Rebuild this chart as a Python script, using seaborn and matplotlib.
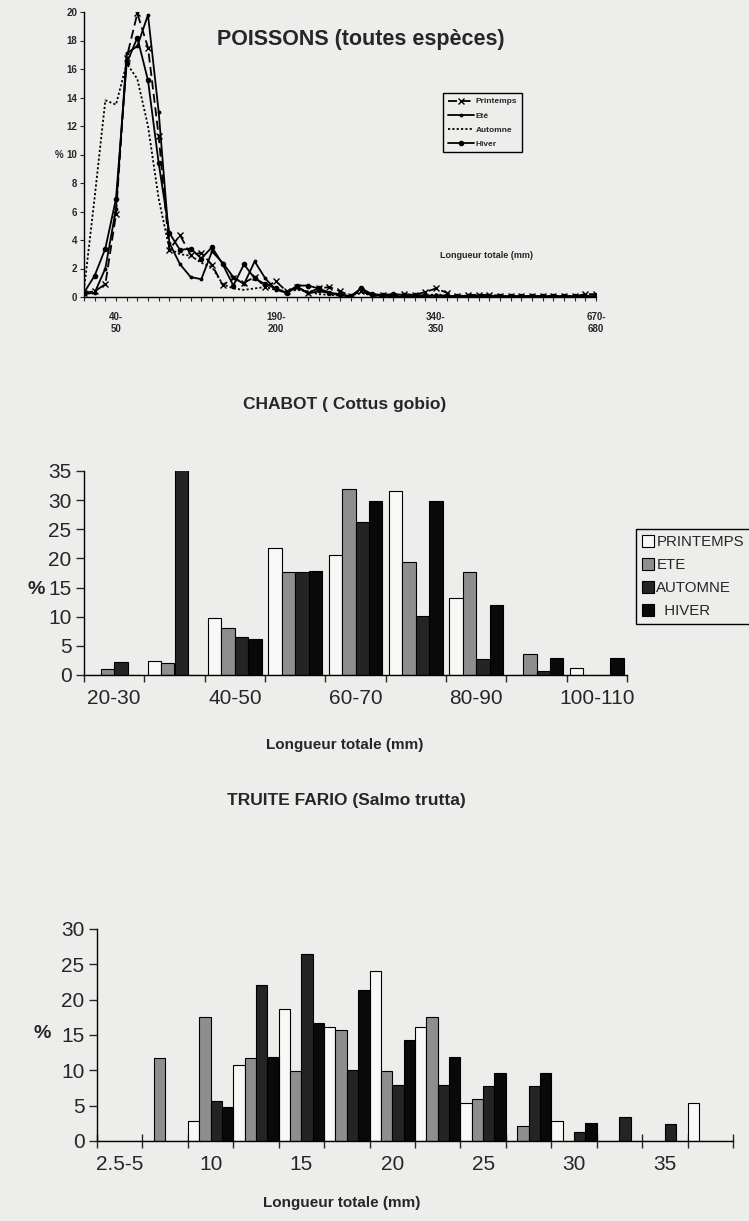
import matplotlib
matplotlib.use("Agg")
import matplotlib.pyplot as plt
import numpy as np
import pandas as pd
import seaborn as sns
from matplotlib.patches import Patch

# ---------------- POISSONS (toutes espèces) : % par classe de longueur
classes_poissons = [f"{a}-{a + 10}" for a in range(10, 350, 10)] + [
    "350-360", "360-370", "370-380", "380-390", "390-400", "400-410", "410-420",
    "420-430", "430-440", "450-460", "470-480", "500-510", "550-560", "600-610",
    "670-680",
]
printemps_poissons = [0.3, 0.4, 0.9, 5.8, 16.8, 19.9, 17.5, 11.3, 3.3, 4.35,
                      2.95, 3.1, 2.25, 0.85, 1.3, 1.0, 1.4, 0.7, 1.1, 0.4,
                      0.7, 0.3, 0.6, 0.7, 0.4, 0.1, 0.4, 0.1, 0.15, 0.1,
                      0.2, 0.15, 0.35, 0.6, 0.3, 0.05, 0.15, 0.15, 0.15, 0.1,
                      0.05, 0.05, 0.05, 0.05, 0.05, 0.05, 0.05, 0.2, 0.2]
ete_poissons = [0.2, 0.3, 2.0, 6.2, 17.1, 17.6, 19.8, 13.0, 3.8, 2.3,
                1.4, 1.25, 3.2, 2.4, 1.4, 0.9, 2.5, 1.3, 0.5, 0.3,
                0.7, 0.25, 0.4, 0.3, 0.1, 0.05, 0.6, 0.1, 0.1, 0.05,
                0.05, 0.05, 0.05, 0.1, 0.05, 0.05, 0.05, 0.05, 0.05, 0.05,
                0.05, 0.05, 0.05, 0.05, 0.05, 0.05, 0.05, 0.05, 0.05]
automne_poissons = [0.5, 7.0, 13.8, 13.5, 16.4, 15.3, 12.0, 6.9, 3.4, 3.0,
                    2.9, 2.4, 2.1, 0.9, 0.6, 0.5, 0.6, 0.7, 0.5, 0.4,
                    0.5, 0.4, 0.2, 0.15, 0.1, 0.1, 0.3, 0.1, 0.05, 0.05,
                    0.05, 0.05, 0.1, 0.2, 0.1, 0.05, 0.05, 0.05, 0.05, 0.05,
                    0.05, 0.05, 0.05, 0.05, 0.05, 0.05, 0.05, 0.05, 0.05]
hiver_poissons = [0.3, 1.5, 3.4, 6.9, 16.4, 18.2, 15.2, 9.4, 4.5, 3.3,
                  3.4, 2.7, 3.5, 2.3, 0.8, 2.3, 1.3, 0.9, 0.6, 0.3,
                  0.8, 0.8, 0.6, 0.3, 0.2, 0.05, 0.6, 0.2, 0.15, 0.2,
                  0.15, 0.15, 0.1, 0.1, 0.1, 0.05, 0.1, 0.1, 0.1, 0.05,
                  0.05, 0.05, 0.05, 0.05, 0.05, 0.05, 0.05, 0.05, 0.05]

# ---------------- CHABOT (Cottus gobio)
classes_chabot = ["20-30", "30-40", "40-50", "50-60", "60-70", "70-80",
                  "80-90", "90-100", "100-110"]
printemps_chabot = [0, 2.4, 9.7, 21.8, 20.6, 31.5, 13.2, 0, 1.2]
ete_chabot = [1.0, 2.0, 8.0, 17.7, 31.9, 19.4, 17.7, 3.6, 0]
automne_chabot = [2.3, 35.1, 6.6, 17.6, 26.2, 10.2, 2.8, 0.7, 0]
hiver_chabot = [0, 0, 6.1, 17.8, 29.8, 29.8, 12.0, 3.0, 3.0]

# ---------------- TRUITE FARIO (Salmo trutta)
classes_truite = ["2.5-5", "7.5", "10", "12.5", "15", "17.5", "20", "22.5",
                  "25", "27.5", "30", "32.5", "35", "37.5"]
printemps_truite = [0, 0, 2.8, 10.7, 18.7, 16.1, 24.1, 16.1, 5.4, 0, 2.8, 0, 0, 5.4]
ete_truite = [0, 11.7, 17.6, 11.7, 9.9, 15.7, 9.9, 17.6, 6.0, 2.1, 0, 0, 0, 0]
automne_truite = [0, 0, 5.7, 22.1, 26.5, 10.0, 7.9, 7.9, 7.8, 7.8, 1.3, 3.4, 2.4, 0]
hiver_truite = [0, 0, 4.8, 11.9, 16.7, 21.3, 14.3, 11.9, 9.6, 9.6, 2.5, 0, 0, 0]

saisons = ["PRINTEMPS", "ETE", "AUTOMNE", "HIVER"]
couleurs = ["#f8f8f6", "#8e8e8e", "#242424", "#090909"]
FOND = "#ededeb"

sns.set_theme(style="ticks")
plt.rcParams["font.family"] = ["Liberation Sans", "DejaVu Sans"]
plt.rcParams["axes.linewidth"] = 1.0

W, H = 749, 1221
fig = plt.figure(figsize=(W / 100, H / 100), dpi=100, facecolor=FOND)


def boite(g, h, d, b):
    return [g / W, 1 - b / H, (d - g) / W, (b - h) / H]


def texte(x, y, s, **kw):
    fig.text(x / W, 1 - y / H, s, ha="center", va="center", **kw)


def habiller(ax):
    ax.set_facecolor(FOND)
    sns.despine(ax=ax)
    ax.spines["left"].set_color("black")
    ax.spines["bottom"].set_color("black")
    ax.set_xlabel("")
    ax.set_ylabel("")


# ================= graphique 1 : lignes =================
ax1 = fig.add_axes(boite(84, 12, 596, 297))
x = np.arange(len(classes_poissons))
series = [
    ("Printemps", printemps_poissons, (0, (5, 2.5)), "x", 4.5),
    ("Eté", ete_poissons, "-", ".", 3.5),
    ("Automne", automne_poissons, (0, (1.2, 1.2)), "None", 0),
    ("Hiver", hiver_poissons, "-", "o", 3),
]
for nom, val, ls, mk, ms in series:
    sns.lineplot(x=x, y=val, ax=ax1, color="black", label=nom)
    ligne = ax1.lines[-1]
    ligne.set_linestyle(ls)
    ligne.set_linewidth(1.3)
    ligne.set_marker(mk)
    ligne.set_markersize(ms)
    ligne.set_markeredgewidth(1.0)
    ligne.set_markerfacecolor("black")
    ligne.set_markeredgecolor("black")
habiller(ax1)
ax1.set_xlim(0, len(classes_poissons) - 1)
ax1.set_ylim(0, 20)
ax1.set_yticks(np.arange(0, 21, 2))
ax1.set_xticks(x)
ax1.set_xticklabels([c.replace("-", "-\n") if i in (3, 18, 33, 48) else ""
                     for i, c in enumerate(classes_poissons)])
ax1.tick_params(axis="x", length=3, width=0.8, labelsize=7, pad=8)
ax1.tick_params(axis="y", length=3, width=0.8, labelsize=7, pad=2)
for t in ax1.get_xticklabels() + ax1.get_yticklabels():
    t.set_fontweight("bold")
h1, l1 = ax1.get_legend_handles_labels()
ax1.legend(h1, l1, loc="upper left", bbox_to_anchor=(443 / W, 1 - 93 / H),
           bbox_transform=fig.transFigure, borderaxespad=0, frameon=True,
           fancybox=False, edgecolor="black", facecolor=FOND, framealpha=1,
           prop={"size": 6, "weight": "bold"}, handlelength=3.2,
           handletextpad=0.2, labelspacing=0.75, borderpad=0.55)
ax1.get_legend().get_frame().set_linewidth(1.0)
texte(361, 39, "POISSONS (toutes espèces)", fontsize=15.5, fontweight="bold")
texte(486, 256, "Longueur totale (mm)", fontsize=6.5, fontweight="bold")
texte(59, 155, "%", fontsize=7, fontweight="bold")


# ================= barres (chabot et truite) =================
def barres(ax, classes, valeurs, largeur):
    df = pd.DataFrame({
        "classe": np.tile(classes, len(saisons)),
        "saison": np.repeat(saisons, len(classes)),
        "pct": np.concatenate(valeurs),
    })
    sns.barplot(data=df, x="classe", y="pct", hue="saison", order=classes,
                hue_order=saisons, palette=dict(zip(saisons, couleurs)),
                saturation=1, width=largeur, edgecolor="black", linewidth=0.8,
                ax=ax, legend=False)
    habiller(ax)
    n = len(classes)
    ax.set_xlim(-0.5, n - 0.5)
    ax.set_xticks(np.arange(0, n, 2))
    ax.set_xticklabels(classes[::2])
    ax.set_xticks(np.arange(-0.5, n, 1), minor=True)
    ax.tick_params(axis="x", which="major", length=0, labelsize=15, pad=10)
    ax.tick_params(axis="y", length=6, width=1.0, labelsize=15, pad=3)


ax2 = fig.add_axes(boite(84, 471, 627, 675))
barres(ax2, classes_chabot,
       [printemps_chabot, ete_chabot, automne_chabot, hiver_chabot], 0.89)
ax2.set_ylim(0, 35)
ax2.set_yticks(np.arange(0, 36, 5))
ax2.tick_params(axis="x", which="minor", length=5, width=1.0, direction="out")
poignees = [Patch(facecolor=c, edgecolor="black", linewidth=0.8) for c in couleurs]
ax2.legend(poignees, ["PRINTEMPS", "ETE", "AUTOMNE", "  HIVER"],
           loc="upper left", bbox_to_anchor=(636 / W, 1 - 529 / H),
           bbox_transform=fig.transFigure, borderaxespad=0, frameon=True,
           fancybox=False, edgecolor="black", facecolor=FOND, framealpha=1,
           fontsize=10.8, handlelength=0.8, handleheight=0.8,
           handletextpad=0.15, labelspacing=0.6, borderpad=0.4)
ax2.get_legend().get_frame().set_linewidth(1.0)
texte(345, 405, "CHABOT ( Cottus gobio)", fontsize=12.5, fontweight="bold")
texte(345, 745, "Longueur totale (mm)", fontsize=11, fontweight="bold")
texte(36, 590, "%", fontsize=14, fontweight="bold")

ax3 = fig.add_axes(boite(97, 929, 733, 1141))
barres(ax3, classes_truite,
       [printemps_truite, ete_truite, automne_truite, hiver_truite], 1.0)
ax3.set_ylim(0, 30)
ax3.set_yticks(np.arange(0, 31, 5))
ax3.tick_params(axis="x", which="minor", length=10, width=1.0, direction="inout")
texte(346, 800, "TRUITE FARIO (Salmo trutta)", fontsize=12.5, fontweight="bold")
texte(342, 1203, "Longueur totale (mm)", fontsize=11, fontweight="bold")
texte(42, 1034, "%", fontsize=14, fontweight="bold")

fig.savefig("out.png", dpi=100, facecolor=FOND)
